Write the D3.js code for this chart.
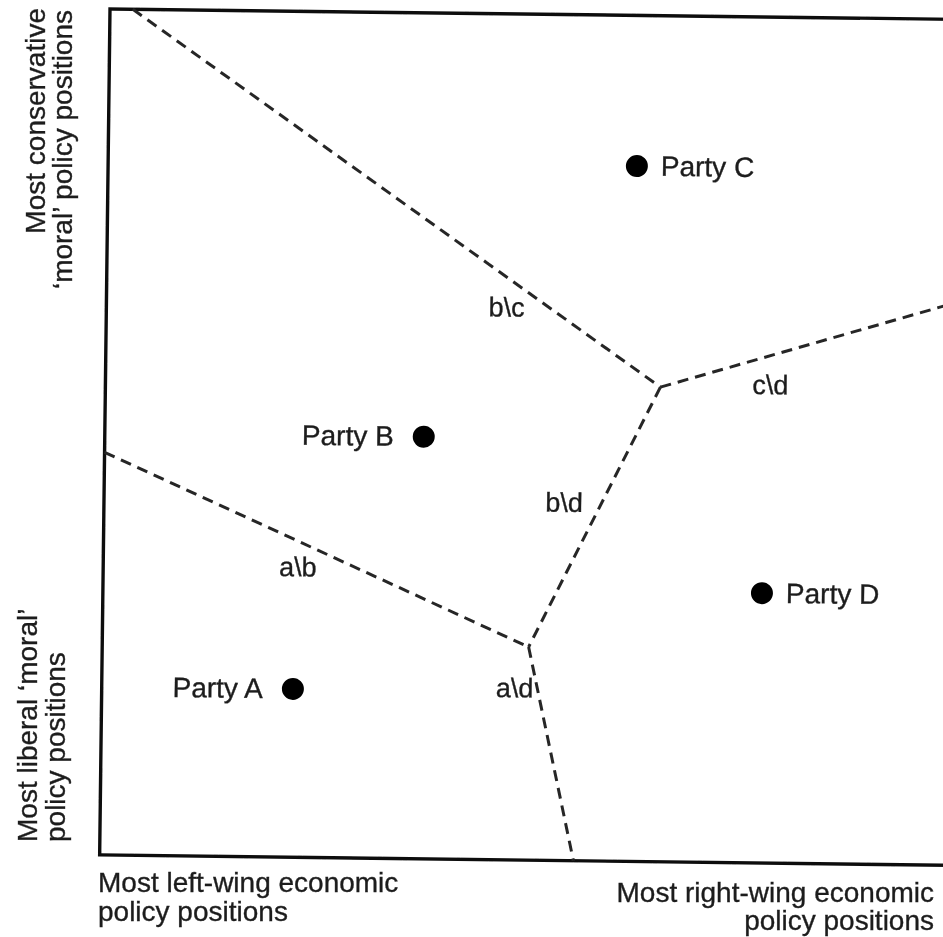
<!DOCTYPE html>
<html>
<head>
<meta charset="utf-8">
<script src="https://cdn.jsdelivr.net/npm/d3@7"></script>
<style>
  html, body { margin: 0; padding: 0; background: #fff; }
  svg { display: block; }
  text { font-family: "Liberation Sans", Arial, Helvetica, sans-serif; fill: #1e1e1e; stroke: #1e1e1e; stroke-width: 0.35; }
</style>
</head>
<body>
<div id="chart"></div>
<script>
// ---- data (0..100 policy space; x = economic left→right, y = moral liberal→conservative) ----
const parties = ["Party A", "Party B", "Party C", "Party D"];
const partyX = [22.6, 37.7, 62.5, 77.9];
const partyY = [19.9, 49.9, 82.2, 31.9];
const partyLabelSide = ["left", "left", "right", "right"];

const boundaryNames = ["b\\c", "c\\d", "b\\d", "a\\b", "a\\d"];
const boundaryX = [[2.7, 65.6], [65.6, 100], [65.6, 50.4], [0, 50.4], [50.4, 56.0]];
const boundaryY = [[100, 56.1], [56.1, 66.4], [56.1, 25.2], [47.6, 25.2], [25.2, 0]];
const boundaryLabelX = [47.3, 78.6, 54.4, 23.0, 48.8];
const boundaryLabelY = [65.3, 56.5, 42.3, 34.3, 20.3];

const xAxisLabels = [["Most left-wing economic", "policy positions"], ["Most right-wing economic", "policy positions"]];
const yAxisLabels = [["Most liberal \u2018moral\u2019", "policy positions"], ["Most conservative", "\u2018moral\u2019 policy positions"]];

// ---- layout ----
const width = 943, height = 937;
const margin = { left: 110, top: 9 };
const W = 846, H = 846;
const tilt = 0.7; // scanned page is slightly rotated

const svg = d3.select("#chart").append("svg")
  .attr("width", width).attr("height", height);

const defs = svg.append("defs");
defs.append("filter").attr("id", "soft")
  .append("feGaussianBlur").attr("stdDeviation", 0.5);

const root = svg.append("g").attr("filter", "url(#soft)");

const x = d3.scaleLinear().domain([0, 100]).range([0, W]);
const y = d3.scaleLinear().domain([0, 100]).range([H, 0]);

const g = root.append("g")
  .attr("transform", `translate(${margin.left},${margin.top}) rotate(${tilt})`);

// frame
g.append("rect")
  .attr("x", x(0)).attr("y", y(100))
  .attr("width", x(100) - x(0)).attr("height", y(0) - y(100))
  .attr("fill", "none").attr("stroke", "#111").attr("stroke-width", 3.4);

// boundaries
const line = d3.line().x(d => x(d[0])).y(d => y(d[1]));
boundaryNames.forEach((name, i) => {
  const pts = boundaryX[i].map((vx, j) => [vx, boundaryY[i][j]]);
  g.append("path")
    .attr("d", line(pts))
    .attr("fill", "none")
    .attr("stroke", "#262626")
    .attr("stroke-width", 3)
    .attr("stroke-dasharray", "11,7");
  g.append("text")
    .attr("x", x(boundaryLabelX[i]))
    .attr("y", y(boundaryLabelY[i]))
    .attr("text-anchor", "middle")
    .attr("dominant-baseline", "central")
    .attr("font-size", 27)
    .text(name);
});

// parties
parties.forEach((name, i) => {
  const cx = x(partyX[i]), cy = y(partyY[i]);
  g.append("circle").attr("cx", cx).attr("cy", cy).attr("r", 11).attr("fill", "#000");
  const left = partyLabelSide[i] === "left";
  g.append("text")
    .attr("x", left ? cx - 30 : cx + 24)
    .attr("y", cy)
    .attr("text-anchor", left ? "end" : "start")
    .attr("dominant-baseline", "central")
    .attr("font-size", 28)
    .text(name);
});

// x-axis end labels
const xl = root.append("g");
xAxisLabels[0].forEach((t, i) => {
  xl.append("text").attr("x", 98).attr("y", 892 + i * 29)
    .attr("text-anchor", "start").attr("font-size", 28).text(t);
});
xAxisLabels[1].forEach((t, i) => {
  xl.append("text").attr("x", 934).attr("y", 902 + i * 28)
    .attr("text-anchor", "end").attr("font-size", 28).text(t);
});

// y-axis end labels (rotated)
const yl = root.append("g");
yAxisLabels[0].forEach((t, i) => {
  const bx = [37, 65][i];
  yl.append("text").attr("transform", `translate(${bx},842) rotate(-90)`)
    .attr("text-anchor", "start").attr("font-size", 28).text(t);
});
yAxisLabels[1].forEach((t, i) => {
  const bx = [45, 72][i];
  yl.append("text").attr("transform", `translate(${bx},${[8, 10][i]}) rotate(-90)`)
    .attr("text-anchor", "end").attr("font-size", 28).text(t);
});
</script>
</body>
</html>
